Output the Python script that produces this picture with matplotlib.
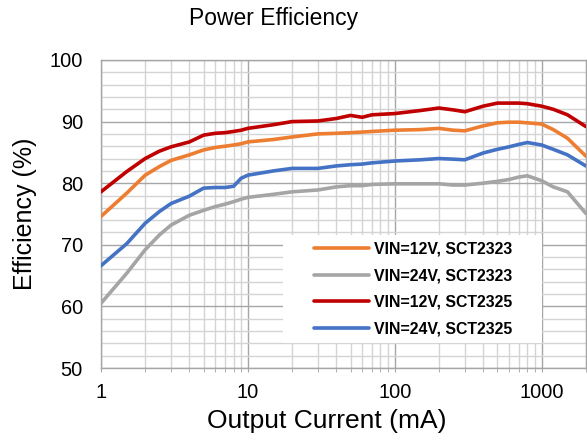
import matplotlib.pyplot as plt
from matplotlib.ticker import FixedLocator, NullFormatter, MultipleLocator
from matplotlib.patches import Rectangle

plt.rcParams['font.family'] = ['Liberation Sans', 'DejaVu Sans']

# Efficiency curves (output current in mA, efficiency in %)
current_ma = [1, 1.5, 2, 2.5, 3, 4, 5, 6, 7, 8, 9, 10, 15, 20, 30, 40, 50, 60, 70,
              100, 150, 200, 250, 300, 400, 500, 600, 700, 800, 1000, 1200, 1500, 2000]
eff_12v_2323 = [74.6, 78.4, 81.3, 82.7, 83.7, 84.6, 85.4, 85.8, 86.0, 86.2, 86.4, 86.7, 87.1, 87.5,
                88.0, 88.1, 88.2, 88.3, 88.4, 88.6, 88.7, 88.9, 88.6, 88.5, 89.3, 89.8, 89.9, 89.9,
                89.8, 89.6, 88.7, 87.3, 84.4]
eff_24v_2323 = [60.5, 65.4, 69.2, 71.6, 73.2, 74.8, 75.6, 76.2, 76.6, 77.0, 77.4, 77.7, 78.2, 78.6,
                78.9, 79.4, 79.6, 79.6, 79.8, 79.9, 79.9, 79.9, 79.7, 79.7, 80.0, 80.3, 80.6, 81.0,
                81.2, 80.4, 79.4, 78.6, 75.1]
eff_12v_2325 = [78.6, 81.9, 84.0, 85.2, 85.9, 86.7, 87.8, 88.1, 88.2, 88.4, 88.6, 88.9, 89.5, 90.0,
                90.1, 90.5, 91.0, 90.7, 91.1, 91.3, 91.8, 92.2, 91.9, 91.6, 92.5, 93.0, 93.0, 93.0,
                92.9, 92.5, 92.0, 91.1, 89.2]
eff_24v_2325 = [66.6, 70.2, 73.5, 75.4, 76.7, 77.9, 79.2, 79.3, 79.3, 79.5, 80.8, 81.3, 82.0, 82.4,
                82.4, 82.8, 83.0, 83.1, 83.3, 83.6, 83.8, 84.0, 83.9, 83.8, 84.9, 85.5, 85.9, 86.3,
                86.6, 86.2, 85.5, 84.6, 82.8]

labels = ["VIN=12V, SCT2323", "VIN=24V, SCT2323", "VIN=12V, SCT2325", "VIN=24V, SCT2325"]
series = [eff_12v_2323, eff_24v_2323, eff_12v_2325, eff_24v_2325]
colors = ['#ED7D31', '#A5A5A5', '#C00000', '#4472C4']

fig = plt.figure(figsize=(5.87, 4.41), dpi=100)
ax = fig.add_axes([0.172, 0.1655, 0.826, 0.6985])

for y, c, lab in zip(series, colors, labels):
    ax.plot(current_ma, y, color=c, lw=2.6, label=lab, solid_capstyle='round',
            solid_joinstyle='round', zorder=3)

ax.set_xscale('log')
ax.set_xlim(1, 2000)
ax.set_ylim(50, 100)

ax.xaxis.set_major_locator(FixedLocator([1, 10, 100, 1000]))
ax.set_xticklabels(['1', '10', '100', '1000'])
minor_x = [m * d for d in [1, 10, 100, 1000] for m in range(2, 10) if m * d <= 2000]
ax.xaxis.set_minor_locator(FixedLocator(minor_x))
ax.xaxis.set_minor_formatter(NullFormatter())
ax.yaxis.set_major_locator(MultipleLocator(10))
ax.yaxis.set_minor_locator(MultipleLocator(2))

ax.grid(which='major', color='#A6A6A6', lw=1.0, zorder=0)
ax.grid(which='minor', color='#D4D4D4', lw=1.0, zorder=0)
ax.set_axisbelow(True)

for s in ax.spines.values():
    s.set_color('#A6A6A6')
    s.set_linewidth(1.0)

ax.tick_params(axis='x', which='both', direction='out', length=3, color='#A6A6A6',
               labelsize=14.4, pad=8)
ax.tick_params(axis='y', which='both', length=0, labelsize=14.4, pad=13)

# white legend box
ax.add_patch(Rectangle((0.375, 0.081), 0.534, 0.351, transform=ax.transAxes,
                       facecolor='white', edgecolor='none', zorder=4))
leg = ax.legend(loc='center', bbox_to_anchor=(0.643, 0.2565), frameon=False,
                prop={'weight': 'bold', 'size': 11.4}, handlelength=3.5,
                handletextpad=0.3, labelspacing=0.72)
leg.set_zorder(5)

fig.text(274 / 587, 1 - 18 / 441, 'Power Efficiency', fontsize=16.5, ha='center', va='center')
fig.text(327 / 587, 1 - 421 / 441, 'Output Current (mA)', fontsize=19, ha='center', va='center')
fig.text(25 / 587, 1 - 214 / 441, 'Efficiency (%)', fontsize=18, rotation=90,
         ha='center', va='center')

fig.savefig('out.png', dpi=100)
